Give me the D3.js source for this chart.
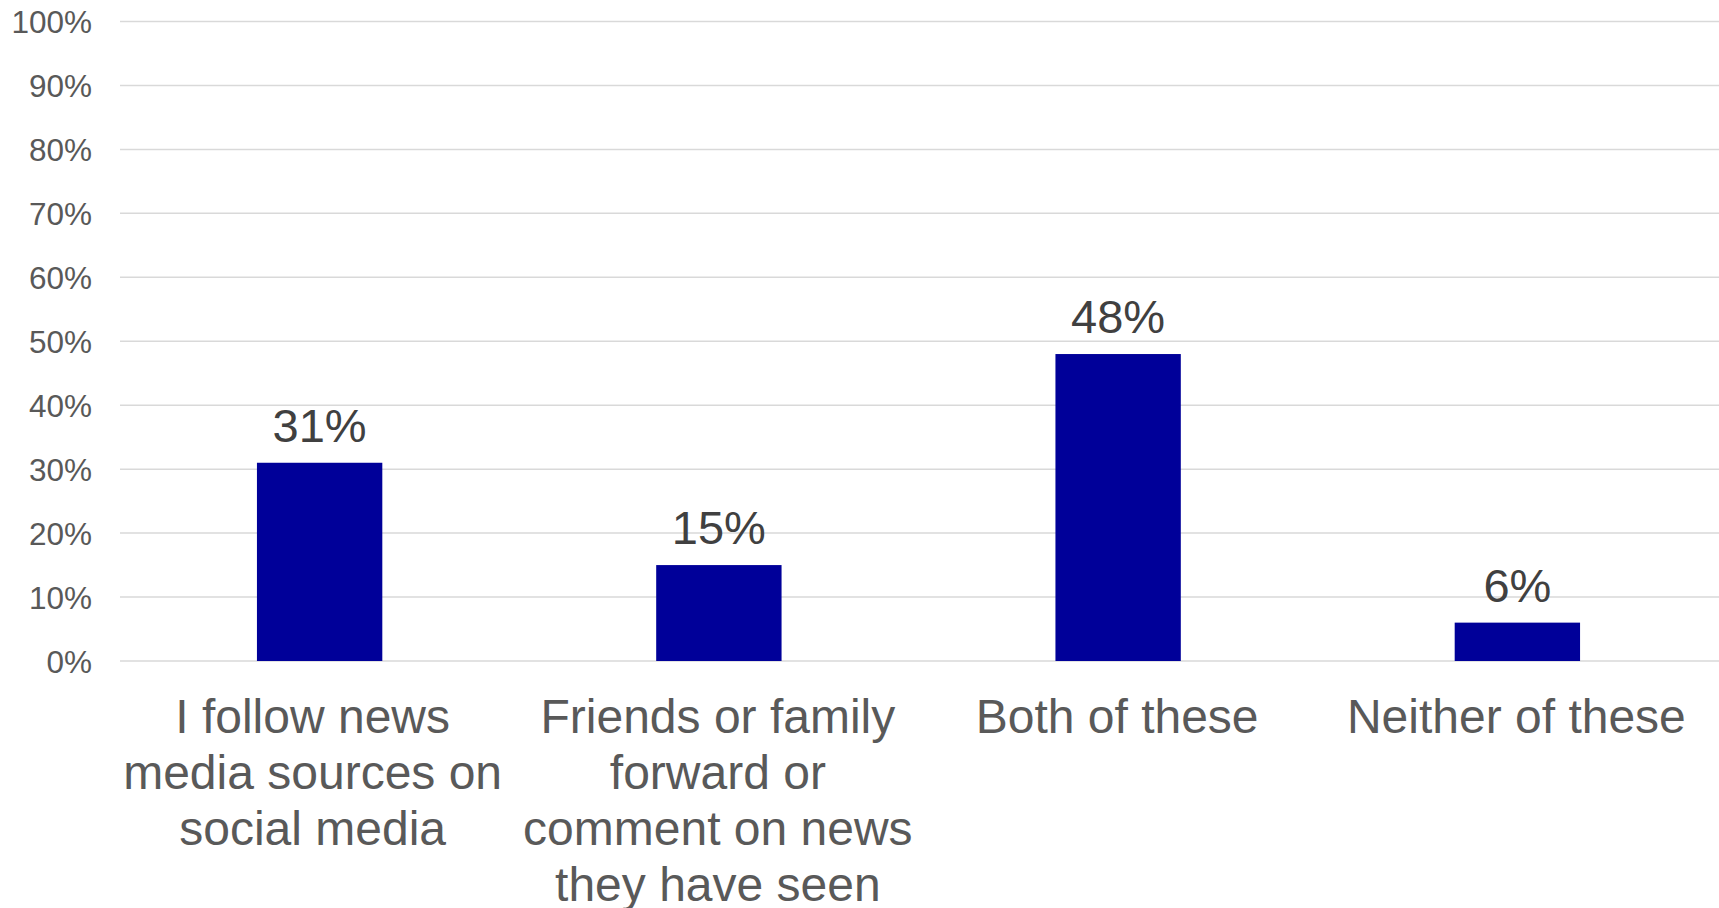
<!DOCTYPE html>
<html><head><meta charset="utf-8">
<script src="https://cdn.jsdelivr.net/npm/d3@7"></script>
<style>html,body{margin:0;padding:0;background:#fff;overflow:hidden}</style>
</head><body>
<svg id="chart" width="1719" height="908"></svg>
<script>
const categories = [
  ["I follow news", "media sources on", "social media"],
  ["Friends or family", "forward or", "comment on news", "they have seen"],
  ["Both of these"],
  ["Neither of these"]
];
const values = [0.31, 0.15, 0.48, 0.06];
const yTicks = [0, 0.1, 0.2, 0.3, 0.4, 0.5, 0.6, 0.7, 0.8, 0.9, 1.0];

const svg = d3.select("#chart");
const margin = {left: 120, right: 2, top: 21.5, bottom: 247};
const W = 1719, H = 908;
const font = "Liberation Sans, Arial, sans-serif";

const x = d3.scaleBand().domain(d3.range(categories.length))
  .range([margin.left, W - margin.right]).paddingInner(0.686).paddingOuter(0.343);
const y = d3.scaleLinear().domain([0, 1]).range([H - margin.bottom, margin.top]);

// gridlines
svg.append("g").selectAll("line").data(yTicks).join("line")
  .attr("x1", margin.left).attr("x2", W)
  .attr("y1", d => y(d)).attr("y2", d => y(d))
  .attr("stroke", "#d9d9d9").attr("stroke-width", 1.5);

// y axis labels
const yAxis = d3.axisLeft(y).tickValues(yTicks).tickFormat(d3.format(".0%")).tickSize(0).tickPadding(0);
const ga = svg.append("g").attr("transform", `translate(92,0)`).call(yAxis);
ga.select(".domain").remove();
ga.selectAll("text").attr("font-family", font).attr("font-size", 31.5).attr("fill", "#595959").attr("dy", "0.36em");

// bars
svg.append("g").selectAll("rect").data(values).join("rect")
  .attr("x", (d, i) => x(i)).attr("width", x.bandwidth())
  .attr("y", d => y(d)).attr("height", d => y(0) - y(d))
  .attr("fill", "#000099");

// data labels
svg.append("g").selectAll("text").data(values).join("text")
  .attr("x", (d, i) => x(i) + x.bandwidth() / 2)
  .attr("y", d => y(d) - 21)
  .attr("text-anchor", "middle")
  .attr("font-family", font).attr("font-size", 47).attr("fill", "#404040")
  .text(d => d3.format(".0%")(d));

// category labels
const cg = svg.append("g").selectAll("text").data(categories).join("text")
  .attr("text-anchor", "middle")
  .attr("font-family", font).attr("font-size", 48).attr("fill", "#595959");
cg.each(function(lines, i) {
  const cx = x(i) + x.bandwidth() / 2 - (i === 0 ? 7 : 1);
  d3.select(this).selectAll("tspan").data(lines).join("tspan")
    .attr("x", cx)
    .attr("y", (d, j) => y(0) + 72 + j * 56)
    .text(d => d);
});
</script>
</body></html>
